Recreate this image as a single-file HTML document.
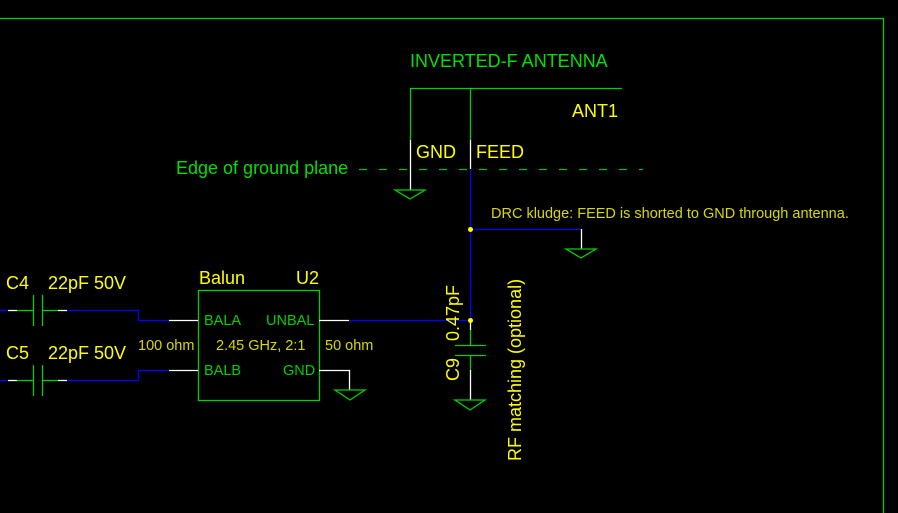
<!DOCTYPE html>
<html><head><style>
html,body{margin:0;padding:0;background:#000;}
svg{display:block}
text{font-family:"Liberation Sans",sans-serif;}
</style></head><body>
<svg width="898" height="513" viewBox="0 0 898 513" xmlns="http://www.w3.org/2000/svg">
<g fill="none" stroke-width="1.3">
<polyline points="0,18.5 883.5,18.5 883.5,513" stroke="#00d000"/>
<polyline points="410.5,140 410.5,88.5 622,88.5" stroke="#00d000"/>
<line x1="470.5" y1="88" x2="470.5" y2="140" stroke="#00d000"/>
<line x1="410.5" y1="140" x2="410.5" y2="190" stroke="#fff"/>
<line x1="470.5" y1="140" x2="470.5" y2="169" stroke="#fff"/>
<line x1="359" y1="169.5" x2="643" y2="169.5" stroke="#00c000" stroke-dasharray="8,12"/>
<polygon points="395,190 425,190 410,199" stroke="#00d000"/>
<polyline points="470.5,169 470.5,320.5 349,320.5" stroke="#0000ff"/>
<line x1="470.5" y1="229.5" x2="581" y2="229.5" stroke="#0000ff"/>
<line x1="581.5" y1="229" x2="581.5" y2="249" stroke="#fff"/>
<polygon points="566,249 596,249 581,258" stroke="#00d000"/>
<line x1="470.5" y1="320" x2="470.5" y2="330" stroke="#fff"/>
<line x1="470.5" y1="330" x2="470.5" y2="345" stroke="#00d000"/>
<line x1="455" y1="345.5" x2="486" y2="345.5" stroke="#00d000"/>
<line x1="455" y1="355.5" x2="486" y2="355.5" stroke="#00d000"/>
<line x1="470.5" y1="355" x2="470.5" y2="370" stroke="#00d000"/>
<line x1="470.5" y1="370" x2="470.5" y2="400" stroke="#fff"/>
<polygon points="455,400 485,400 470,410" stroke="#00d000"/>
<rect x="198.5" y="290.5" width="121" height="110" stroke="#00d000"/>
<line x1="169" y1="320.5" x2="198" y2="320.5" stroke="#fff"/>
<line x1="169" y1="370.5" x2="198" y2="370.5" stroke="#fff"/>
<line x1="319" y1="320.5" x2="349" y2="320.5" stroke="#fff"/>
<polyline points="319,370.5 349.5,370.5 349.5,390" stroke="#fff"/>
<polygon points="335,390 365,390 350,400" stroke="#00d000"/>
<polyline points="67,310.5 138.5,310.5 138.5,320.5 169,320.5" stroke="#0000ff"/>
<polyline points="67,380.5 138.5,380.5 138.5,370.5 169,370.5" stroke="#0000ff"/>
<line x1="0" y1="310.5" x2="8" y2="310.5" stroke="#0000ff"/>
<line x1="8" y1="310.5" x2="17" y2="310.5" stroke="#fff"/>
<line x1="17" y1="310.5" x2="33" y2="310.5" stroke="#00d000"/>
<line x1="33.5" y1="295" x2="33.5" y2="326" stroke="#00d000"/>
<line x1="42.5" y1="295" x2="42.5" y2="326" stroke="#00d000"/>
<line x1="42" y1="310.5" x2="58" y2="310.5" stroke="#00d000"/>
<line x1="58" y1="310.5" x2="67" y2="310.5" stroke="#fff"/>
<line x1="0" y1="380.5" x2="8" y2="380.5" stroke="#0000ff"/>
<line x1="8" y1="380.5" x2="17" y2="380.5" stroke="#fff"/>
<line x1="17" y1="380.5" x2="33" y2="380.5" stroke="#00d000"/>
<line x1="33.5" y1="365" x2="33.5" y2="396" stroke="#00d000"/>
<line x1="42.5" y1="365" x2="42.5" y2="396" stroke="#00d000"/>
<line x1="42" y1="380.5" x2="58" y2="380.5" stroke="#00d000"/>
<line x1="58" y1="380.5" x2="67" y2="380.5" stroke="#fff"/>
</g>
<g fill="#ffff00" stroke="none">
<circle cx="470.5" cy="229.5" r="2.5"/>
<circle cx="470.5" cy="320.5" r="2.5"/>
</g>
<g font-size="18" fill="#ffff00">
<text x="572" y="117">ANT1</text>
<text x="416" y="158">GND</text>
<text x="476" y="158">FEED</text>
<text x="6" y="289">C4</text>
<text x="48" y="289">22pF 50V</text>
<text x="6" y="359">C5</text>
<text x="48" y="359">22pF 50V</text>
<text x="199" y="284">Balun</text>
<text x="296" y="284">U2</text>
<text transform="translate(459,341) rotate(-90)">0.47pF</text>
<text transform="translate(459,381) rotate(-90)">C9</text>
<text transform="translate(521,461) rotate(-90)">RF matching (optional)</text>
</g>
<g font-size="18" fill="#00e000">
<text x="410" y="67">INVERTED-F ANTENNA</text>
<text x="176" y="174">Edge of ground plane</text>
</g>
<g font-size="14.5" fill="#00d000">
<text x="204" y="325">BALA</text>
<text x="266" y="325">UNBAL</text>
<text x="204" y="375">BALB</text>
<text x="283" y="375">GND</text>
</g>
<g font-size="14.5" fill="#d8d800">
<text x="216" y="350">2.45 GHz, 2:1</text>
<text x="138" y="350">100 ohm</text>
<text x="325" y="350">50 ohm</text>
<text x="491" y="218">DRC kludge: FEED is shorted to GND through antenna.</text>
</g>
</svg>
</body></html>
